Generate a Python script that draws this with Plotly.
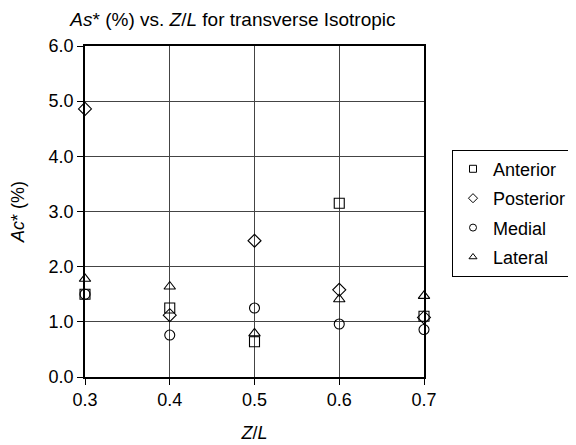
import plotly.graph_objects as go

zl = [0.3, 0.4, 0.5, 0.6, 0.7]
anterior = [1.50, 1.25, 0.64, 3.15, 1.10]
posterior = [4.86, 1.12, 2.47, 1.58, 1.08]
medial = [1.50, 0.76, 1.25, 0.96, 0.86]
lateral = [1.78, 1.64, 0.79, 1.41, 1.47]

series = [
    ("Anterior", anterior, "square-open"),
    ("Posterior", posterior, "diamond-open"),
    ("Medial", medial, "circle-open"),
    ("Lateral", lateral, "triangle-up-open"),
]

fig = go.Figure()
for name, vals, sym in series:
    fig.add_trace(go.Scatter(
        x=zl, y=vals, mode="markers", name=name, showlegend=False,
        marker=dict(symbol=sym, size=10, color="black", line=dict(width=1.1, color="black")),
        cliponaxis=False,
    ))
for name, vals, sym in series:
    fig.add_trace(go.Scatter(
        x=[None], y=[None], mode="markers", name=name + "\u00a0", showlegend=True,
        legendgroup=name,
        marker=dict(symbol=sym, size=7, color="black", line=dict(width=1, color="black")),
    ))

font = "Liberation Sans, Arial, Helvetica, sans-serif"
fig.update_layout(
    width=568, height=437,
    margin=dict(l=77, r=152, t=38, b=68),
    paper_bgcolor="white", plot_bgcolor="white",
    font=dict(family=font, size=18, color="black"),
    title=dict(text="<i>As</i>* (%) vs. <i>Z</i>/<i>L</i> for transverse Isotropic",
               x=0.396, xanchor="center", y=0.99, yanchor="top", font=dict(size=19)),
    showlegend=True,
    legend=dict(xref="container", yref="container", x=0.7817, y=0.676,
                xanchor="left", yanchor="top",
                bordercolor="black", borderwidth=1, bgcolor="white",
                font=dict(size=18), itemsizing="trace", itemwidth=30,
                tracegroupgap=3),
    xaxis=dict(range=[0.3, 0.7], tickvals=[0.3, 0.4, 0.5, 0.6, 0.7],
               ticktext=["0.3", "0.4", "0.5", "0.6", "0.7"],
               tickfont=dict(size=18), automargin=False,
               showgrid=True, gridcolor="#444", gridwidth=1,
               showline=True, linecolor="black", linewidth=1.5, mirror=True,
               ticks="outside", ticklen=6, tickcolor="black", zeroline=False,
               title=dict(text="<i>Z</i>/<i>L</i>", font=dict(size=18), standoff=17)),
    yaxis=dict(range=[0, 6], tickvals=[0, 1, 2, 3, 4, 5, 6],
               ticktext=["0.0", "1.0", "2.0", "3.0", "4.0", "5.0", "6.0"],
               tickfont=dict(size=18), automargin=False,
               showgrid=True, gridcolor="#444", gridwidth=1,
               showline=True, linecolor="black", linewidth=1.5, mirror=True,
               ticks="outside", ticklen=6, tickcolor="black", zeroline=False,
               title=dict(text="<i>Ac</i>* (%)", font=dict(size=18), standoff=26)),
)

fig.write_html("out.html")
